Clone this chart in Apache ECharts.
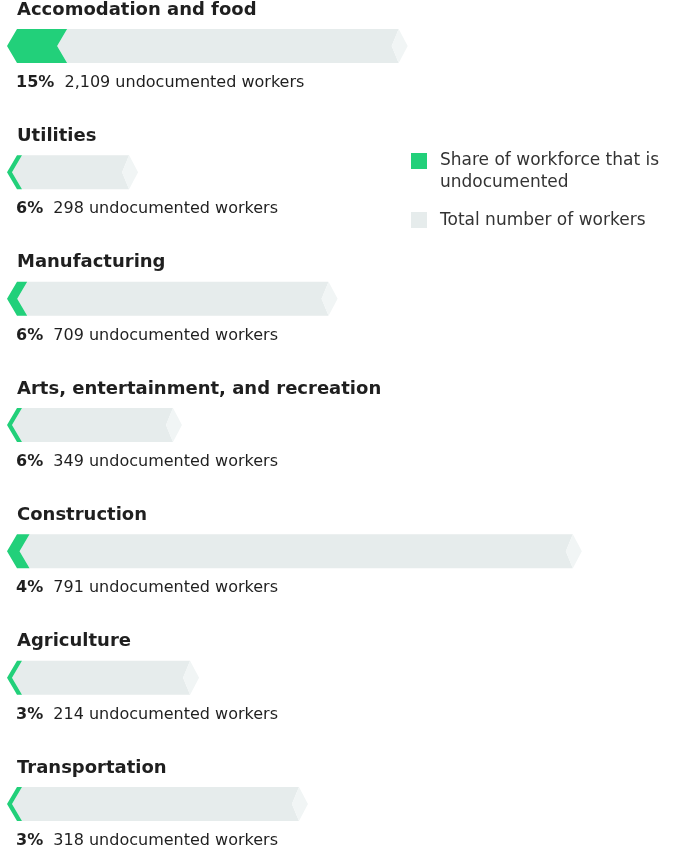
<!DOCTYPE html>
<html>
<head>
<meta charset="utf-8">
<style>
  html, body { margin: 0; padding: 0; background: #ffffff; }
  #chart { width: 676px; height: 855px; }
</style>
<script src="https://cdn.jsdelivr.net/npm/echarts@6/dist/echarts.min.js"></script>
</head>
<body>
<div id="chart"></div>
<script>
// Industries, top to bottom
const industries = [
  'Accomodation and food',
  'Utilities',
  'Manufacturing',
  'Arts, entertainment, and recreation',
  'Construction',
  'Agriculture',
  'Transportation'
];
// Share of the workforce that is undocumented (%)
const sharePct = [15, 6, 6, 6, 4, 3, 3];
// Number of undocumented workers
const undocumented = [2109, 298, 709, 349, 791, 214, 318];
// Total number of workers (all statuses)
const totalWorkers = [14060, 4600, 11600, 6140, 20170, 6740, 10560];

const GREEN = '#22d07a';
const GRAY = '#e6ecec';
const GRAY_TIP = '#f1f5f5';
const TEXT = '#1f1f1f';
const FONT = '"DejaVu Sans", sans-serif';

const chart = echarts.init(document.getElementById('chart'), null, { renderer: 'canvas' });

const rows = industries.map((name, i) => [i, totalWorkers[i], undocumented[i], sharePct[i]]);

const H = 17;      // half bar height
const SLANT = 10;  // chevron slant

function renderBar(params, api) {
  const i = api.value(0);
  const total = api.value(1);
  const undoc = api.value(2);
  const pct = api.value(3);
  const base = api.coord([0, i]);
  const x0 = base[0];
  const y = base[1];
  const xT = api.coord([total, i])[0];
  // undocumented share: left chevron, kept at least a thin stroke wide
  const xG = Math.max(api.coord([undoc, i])[0], x0 + SLANT + 5);

  const gray = {
    type: 'polygon',
    shape: { points: [
      [xG - SLANT, y], [xG, y - H], [xT - 9, y - H], [xT - 16, y],
      [xT - 9, y + H], [xG, y + H]
    ] },
    style: { fill: GRAY }
  };
  const tip = {
    type: 'polygon',
    shape: { points: [[xT - 16, y], [xT - 9, y - H], [xT, y], [xT - 9, y + H]] },
    style: { fill: GRAY_TIP }
  };
  const green = {
    type: 'polygon',
    shape: { points: [
      [x0, y], [x0 + SLANT, y - H], [xG, y - H], [xG - SLANT, y],
      [xG, y + H], [x0 + SLANT, y + H]
    ] },
    style: { fill: GREEN }
  };
  const title = {
    type: 'text',
    style: {
      text: industries[i], x: 17, y: y - 36,
      fill: TEXT, font: 'bold 18px ' + FONT,
      verticalAlign: 'middle', align: 'left'
    }
  };
  const label = {
    type: 'text',
    style: {
      text: '{b|' + pct + '%}  ' + undoc.toLocaleString('en-US') + ' undocumented workers',
      x: 16, y: y + 37,
      fill: TEXT, font: '16px ' + FONT,
      verticalAlign: 'middle', align: 'left',
      rich: { b: { font: 'bold 16px ' + FONT, fill: TEXT } }
    }
  };
  return { type: 'group', children: [gray, tip, green, title, label] };
}

chart.setOption({
  animation: false,
  grid: { left: 7, width: 627, top: 46, bottom: 51 },
  xAxis: { type: 'value', min: 0, max: 22000, show: false },
  yAxis: {
    type: 'category', data: industries, inverse: true,
    boundaryGap: false, show: false
  },
  series: [{
    type: 'custom',
    name: 'Total number of workers',
    renderItem: renderBar,
    encode: { x: [1, 2], y: 0 },
    data: rows
  }],
  graphic: [
    { type: 'rect', shape: { x: 411, y: 153, width: 16, height: 16 }, style: { fill: GREEN } },
    { type: 'text', style: { text: 'Share of workforce that is\nundocumented', x: 440, y: 150,
        font: '17px ' + FONT, fill: '#333', lineHeight: 22 } },
    { type: 'rect', shape: { x: 411, y: 212, width: 16, height: 16 }, style: { fill: GRAY } },
    { type: 'text', style: { text: 'Total number of workers', x: 440, y: 210,
        font: '17px ' + FONT, fill: '#333', lineHeight: 22 } }
  ]
});
</script>
</body>
</html>
